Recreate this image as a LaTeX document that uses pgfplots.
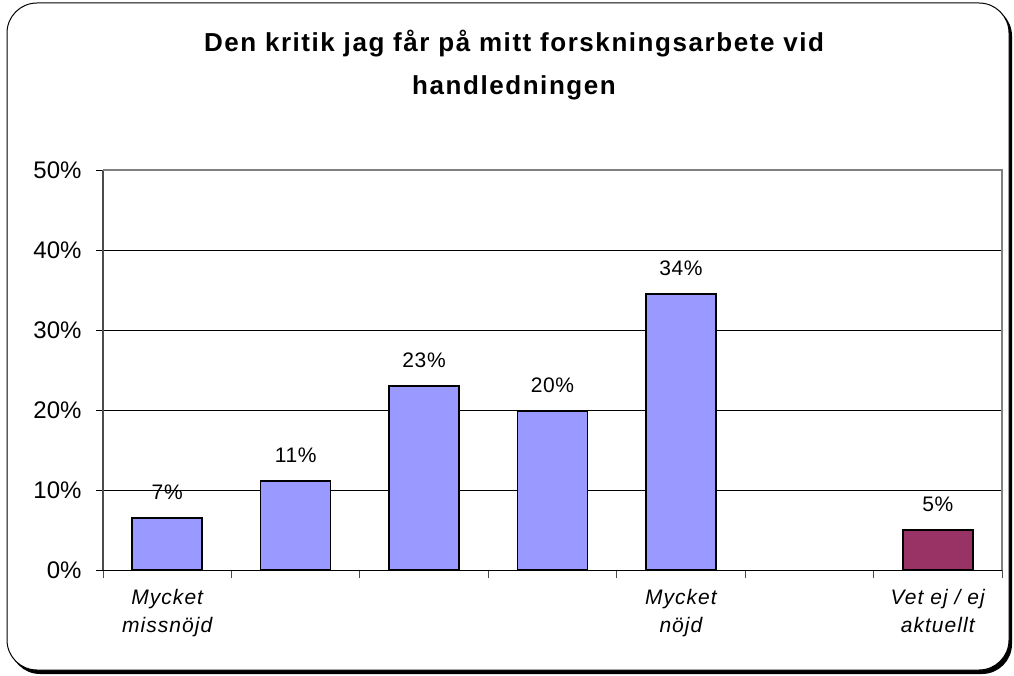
\documentclass[border=0pt]{standalone}
\usepackage{pgfplots}
\pgfplotsset{compat=1.18}
\usepackage{fontspec}
\setmainfont{Liberation Sans}
\newfontfamily\titlefont[LetterSpace=6]{Liberation Sans}
\definecolor{barblue}{HTML}{9999FF}
\definecolor{barpurple}{HTML}{993366}
\begin{document}
\begin{tikzpicture}[x=1pt,y=1pt]
\useasboundingbox (0,0) rectangle (1014,675);
\fill[black, rounded corners=30pt] (10,1) rectangle (1012,669);
\draw[black, line width=1pt, fill=white, rounded corners=30pt] (7,5) rectangle (1009,672);
\node[font=\titlefont\bfseries\fontsize{26}{44}\selectfont, anchor=base] at (514,623) {Den kritik jag får på mitt forskningsarbete vid};
\node[font=\titlefont\bfseries\fontsize{26}{44}\selectfont, anchor=base] at (514,580) {handledningen};
\begin{axis}[
  at={(103pt,105pt)}, anchor=south west,
  scale only axis, width=899pt, height=400pt,
  xmin=-0.5, xmax=6.5, ymin=0, ymax=50,
  axis lines=left, axis line style={-},
  x axis line style={black, line width=1pt},
  y axis line style={black!70, line width=1.2pt},
  xtick={0,4,6},
  xticklabels={{Mycket\\missnöjd},{Mycket\\nöjd},{Vet ej / ej\\aktuellt}},
  x tick label style={font=\fontsize{21}{28}\selectfont\itshape\addfontfeatures{LetterSpace=5}, align=center, yshift=-9pt},
  every major x tick/.style={draw=none},
  minor xtick={-0.5,0.5,...,6.5},
  every minor x tick/.style={draw=black!70, line width=1pt},
  minor tick length=8pt,
  ytick={0,10,...,50},
  yticklabel={\pgfmathprintnumber{\tick}\%},
  /pgf/number format/assume math mode=true,
  y tick label style={font=\fontsize{24}{28}\selectfont, xshift=-11pt},
  ytick style={draw=black, line width=1pt},
  major tick length=7pt,
  tick align=outside,
  ymajorgrids, grid style={black, line width=0.8pt},
  ybar, bar width=70pt, bar shift=0pt,
  nodes near coords={\pgfplotspointmeta\%},
  point meta=explicit symbolic,
  every node near coord/.style={font=\fontsize{21}{24}\selectfont\addfontfeatures{LetterSpace=3}, anchor=base, yshift=19pt, black},
  clip=false,
]
\addplot[fill=barblue, draw=black, line width=1.5pt] coordinates {
  (0,6.5) [7]
  (1,11.1) [11]
  (2,23.0) [23]
  (3,19.8) [20]
  (4,34.5) [34]
};
\addplot[fill=barpurple, draw=black, line width=1.5pt] coordinates {
  (6,5.0) [5]
};
\draw[black!50, line width=1.2pt] (rel axis cs:0,1) -- (rel axis cs:1,1) -- (rel axis cs:1,0);
\end{axis}
\end{tikzpicture}
\end{document}
